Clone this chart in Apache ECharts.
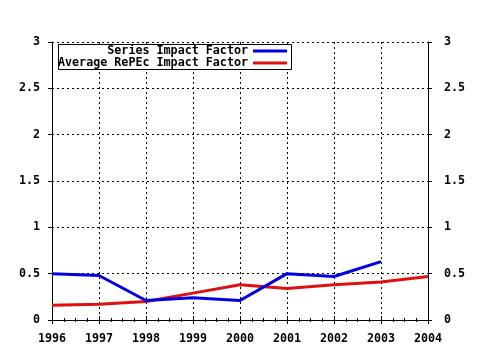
<!DOCTYPE html>
<html><head><meta charset="utf-8">
<script src="https://cdn.jsdelivr.net/npm/echarts@6/dist/echarts.min.js"></script>
<style>html,body{margin:0;padding:0;background:#fff}#c{width:480px;height:350px}</style>
</head><body><div id="c"></div>
<script>
const years = [1996, 1997, 1998, 1999, 2000, 2001, 2002, 2003, 2004];
const seriesIF = [0.50, 0.48, 0.21, 0.24, 0.21, 0.50, 0.47, 0.63, null];
const repecIF = [0.16, 0.17, 0.20, 0.29, 0.38, 0.34, 0.38, 0.41, 0.47];
const yTicks = [0, 0.5, 1, 1.5, 2, 2.5, 3];
const names = ['Series Impact Factor', 'Average RePEc Impact Factor'];

const FONT = 'DejaVu Sans Mono';
const lab = {fontFamily: FONT, fontWeight: 'bold', fontSize: 11.7, color: '#000'};
const chart = echarts.init(document.getElementById('c'), null, {renderer: 'canvas'});
const xBase = {
  type: 'value', min: 1996, max: 2004, interval: 1,
  axisLine: {show: true, lineStyle: {color: '#000', width: 1}},
  axisTick: {show: true, inside: false, length: 4, lineStyle: {color: '#000'}},
  minorTick: {show: true, splitNumber: 4, length: 2, lineStyle: {color: '#000'}},
  splitLine: {show: false}
};
const yBase = {
  type: 'value', min: 0, max: 3, interval: 0.5,
  axisLine: {show: true, lineStyle: {color: '#000', width: 1}},
  axisTick: {show: true, inside: false, length: 4, lineStyle: {color: '#000'}},
  splitLine: {show: false},
  axisLabel: Object.assign({}, lab, {formatter: v => yTicks.includes(v) ? String(v) : ''})
};
chart.setOption({
  animation: false,
  backgroundColor: '#fff',
  grid: {left: 52, right: 52, top: 42, bottom: 30, containLabel: false},
  xAxis: [
    Object.assign({}, xBase, {position: 'bottom',
      splitLine: {show: true, lineStyle: {color: '#000', type: [2, 3], width: 1}},
      axisLabel: Object.assign({}, lab, {margin: 13, formatter: v => String(v)})}),
    Object.assign({}, xBase, {position: 'top', axisLabel: {show: false}})
  ],
  yAxis: [
    Object.assign({}, yBase, {position: 'left',
      splitLine: {show: true, lineStyle: {color: '#000', type: [2, 3], width: 1}},
      axisLabel: Object.assign({}, yBase.axisLabel, {margin: 12})}),
    Object.assign({}, yBase, {position: 'right',
      axisLabel: Object.assign({}, yBase.axisLabel, {margin: 16})})
  ],
  graphic: [{
    type: 'rect', z: 50, shape: {x: 58.5, y: 44.5, width: 233, height: 25},
    style: {fill: '#fff', stroke: '#000', lineWidth: 1}
  }],
  legend: [
    {data: [names[0]], orient: 'vertical', align: 'right', right: 193, top: 45, padding: 0,
     itemWidth: 34, itemHeight: 3, icon: 'rect', itemGap: 0, z: 60, textStyle: lab},
    {data: [names[1]], orient: 'vertical', align: 'right', right: 193, top: 57, padding: 0,
     itemWidth: 34, itemHeight: 3, icon: 'rect', itemGap: 0, z: 60, textStyle: lab}
  ],
  series: [
    {name: names[0], type: 'line', data: years.map((y, i) => [y, seriesIF[i]]),
     symbol: 'none', lineStyle: {color: '#0000e0', width: 3}, itemStyle: {color: '#0000e0'}, z: 5},
    {name: names[1], type: 'line', data: years.map((y, i) => [y, repecIF[i]]),
     symbol: 'none', lineStyle: {color: '#e01010', width: 3}, itemStyle: {color: '#e01010'}, z: 4}
  ]
});
</script></body></html>
